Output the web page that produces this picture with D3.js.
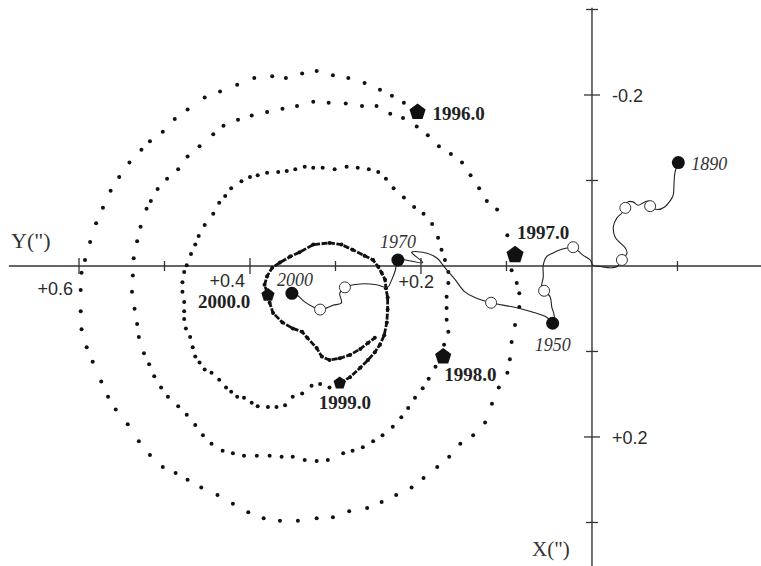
<!DOCTYPE html>
<html>
<head>
<meta charset="utf-8">
<script src="https://cdn.jsdelivr.net/npm/d3@7"></script>
<style>
  body { margin: 0; background: #fff; }
  svg { display: block; }
</style>
</head>
<body>
<script>
// pole positions as [X(''), Y('')]
const ring1996 = [[-0.180,0.204],[-0.191,0.220],[-0.199,0.234],[-0.206,0.248],[-0.214,0.266],[-0.220,0.285],[-0.223,0.303],[-0.228,0.322],[-0.225,0.339],[-0.220,0.358],[-0.222,0.374],[-0.220,0.395],[-0.212,0.415],[-0.204,0.435],[-0.197,0.453],[-0.183,0.473],[-0.172,0.488],[-0.157,0.502],[-0.146,0.517],[-0.136,0.527],[-0.121,0.541],[-0.104,0.553],[-0.088,0.563],[-0.068,0.572],[-0.050,0.580],[-0.028,0.587],[-0.007,0.593],[0.008,0.597],[0.028,0.598],[0.053,0.598],[0.074,0.597],[0.095,0.591],[0.112,0.584],[0.135,0.574],[0.153,0.566],[0.168,0.557],[0.185,0.543],[0.205,0.530],[0.221,0.517],[0.235,0.502],[0.242,0.487],[0.250,0.473],[0.259,0.457],[0.268,0.438],[0.278,0.420],[0.288,0.402],[0.295,0.384],[0.298,0.365],[0.298,0.344],[0.295,0.322],[0.294,0.303],[0.287,0.284],[0.283,0.263],[0.276,0.246],[0.268,0.229],[0.259,0.211],[0.248,0.197],[0.235,0.181],[0.223,0.167],[0.208,0.154],[0.198,0.139],[0.183,0.125],[0.161,0.117],[0.142,0.109],[0.125,0.099],[0.109,0.096],[0.089,0.094],[0.069,0.090],[0.048,0.085],[0.032,0.085],[0.020,0.088],[0.005,0.094],[-0.013,0.090]];
const ring1997 = [[-0.013,0.090],[-0.036,0.099],[-0.066,0.111],[-0.076,0.123],[-0.091,0.132],[-0.106,0.142],[-0.121,0.152],[-0.131,0.165],[-0.140,0.179],[-0.153,0.192],[-0.163,0.205],[-0.173,0.221],[-0.178,0.236],[-0.187,0.252],[-0.187,0.269],[-0.190,0.288],[-0.191,0.308],[-0.192,0.326],[-0.187,0.345],[-0.184,0.362],[-0.180,0.380],[-0.176,0.398],[-0.171,0.414],[-0.164,0.431],[-0.154,0.443],[-0.140,0.459],[-0.128,0.473],[-0.113,0.484],[-0.102,0.497],[-0.090,0.508],[-0.076,0.516],[-0.067,0.521],[-0.046,0.528],[-0.029,0.532],[-0.009,0.536],[0.011,0.537],[0.030,0.538],[0.050,0.535],[0.068,0.532],[0.083,0.530],[0.102,0.524],[0.115,0.518],[0.129,0.512],[0.142,0.504],[0.153,0.496],[0.164,0.484],[0.174,0.474],[0.186,0.464],[0.198,0.455],[0.208,0.445],[0.216,0.432],[0.219,0.420],[0.222,0.407],[0.222,0.392],[0.222,0.377],[0.223,0.363],[0.223,0.350],[0.227,0.336],[0.228,0.322],[0.227,0.309],[0.219,0.291],[0.216,0.280],[0.212,0.268],[0.205,0.256],[0.198,0.245],[0.188,0.233],[0.177,0.223],[0.166,0.215],[0.154,0.207],[0.143,0.198],[0.132,0.191],[0.118,0.183],[0.106,0.174]];
const ring1998 = [[0.106,0.174],[0.092,0.173],[0.077,0.168],[0.063,0.170],[0.049,0.170],[0.036,0.170],[0.020,0.168],[0.007,0.168],[-0.007,0.172],[-0.019,0.176],[-0.033,0.180],[-0.049,0.187],[-0.061,0.197],[-0.069,0.208],[-0.080,0.220],[-0.091,0.232],[-0.102,0.241],[-0.110,0.250],[-0.113,0.261],[-0.115,0.274],[-0.116,0.287],[-0.113,0.301],[-0.115,0.315],[-0.115,0.326],[-0.116,0.336],[-0.113,0.347],[-0.111,0.357],[-0.110,0.367],[-0.109,0.380],[-0.106,0.391],[-0.104,0.400],[-0.099,0.410],[-0.091,0.422],[-0.082,0.429],[-0.074,0.436],[-0.061,0.443],[-0.048,0.453],[-0.035,0.460],[-0.025,0.464],[-0.014,0.469],[-0.001,0.474],[0.007,0.477],[0.019,0.479],[0.030,0.479],[0.042,0.477],[0.053,0.477],[0.062,0.477],[0.073,0.475],[0.083,0.470],[0.095,0.467],[0.106,0.464],[0.113,0.459],[0.121,0.453],[0.125,0.445],[0.133,0.436],[0.142,0.428],[0.147,0.422],[0.153,0.415],[0.154,0.407],[0.160,0.398],[0.164,0.391],[0.165,0.379],[0.165,0.369],[0.163,0.359],[0.153,0.350],[0.149,0.339],[0.140,0.328],[0.138,0.318],[0.142,0.307],[0.137,0.295]];
const ring1999 = [[0.137,0.295],[0.130,0.283],[0.119,0.271],[0.110,0.262],[0.101,0.254],[0.092,0.248],[0.081,0.243],[0.066,0.240],[0.051,0.239],[0.037,0.239],[0.026,0.241],[0.016,0.242],[0.008,0.246],[0.001,0.250],[-0.007,0.256],[-0.012,0.266],[-0.019,0.280],[-0.025,0.293],[-0.027,0.307],[-0.025,0.326],[-0.016,0.342],[-0.011,0.353],[-0.004,0.365],[0.002,0.374],[0.012,0.380],[0.022,0.383],[0.034,0.379],[0.043,0.377],[0.055,0.373],[0.066,0.362],[0.073,0.350],[0.077,0.339],[0.084,0.333],[0.096,0.322],[0.106,0.316],[0.110,0.307],[0.108,0.295],[0.104,0.283],[0.097,0.271],[0.090,0.262],[0.084,0.254]];

// epochs on the recent spiral
const epochLabels = ["1996.0","1997.0","1998.0","1999.0","2000.0"];
const epochPos = [[-0.180,0.204],[-0.013,0.090],[0.106,0.174],[0.137,0.295],[0.034,0.379]];

// mean pole path 1890 - 2000
const meanPath = [[-0.121,-0.101],[-0.109,-0.097],[-0.097,-0.096],[-0.083,-0.095],[-0.077,-0.092],[-0.069,-0.085],[-0.066,-0.077],[-0.070,-0.068],[-0.076,-0.066],[-0.074,-0.060],[-0.071,-0.054],[-0.075,-0.048],[-0.075,-0.042],[-0.068,-0.039],[-0.062,-0.035],[-0.056,-0.029],[-0.046,-0.025],[-0.034,-0.027],[-0.027,-0.033],[-0.021,-0.039],[-0.015,-0.041],[-0.007,-0.035],[0.001,-0.029],[0.002,-0.021],[0.001,-0.013],[-0.001,-0.001],[-0.007,0.002],[-0.013,0.011],[-0.022,0.022],[-0.021,0.029],[-0.019,0.037],[-0.015,0.046],[-0.011,0.053],[-0.001,0.057],[0.013,0.057],[0.025,0.059],[0.029,0.056],[0.036,0.049],[0.048,0.047],[0.059,0.044],[0.067,0.046],[0.060,0.053],[0.054,0.069],[0.048,0.092],[0.043,0.118],[0.037,0.137],[0.030,0.149],[0.016,0.160],[0.002,0.172],[-0.009,0.181],[-0.015,0.193],[-0.016,0.211],[-0.004,0.198],[-0.007,0.227],[0.005,0.230],[0.018,0.235],[0.025,0.239],[0.022,0.252],[0.021,0.271],[0.025,0.289],[0.032,0.295],[0.043,0.293],[0.046,0.303],[0.049,0.310],[0.051,0.318],[0.048,0.326],[0.042,0.336],[0.034,0.345],[0.032,0.351]];
const decadeYears = [1900,1910,1920,1930,1940,1960,1980,1990];
const decadePos = [[-0.070,-0.068],[-0.068,-0.039],[-0.007,-0.035],[-0.022,0.022],[0.029,0.056],[0.043,0.118],[0.025,0.289],[0.051,0.318]];
const namedYears = ["1890","1950","1970","2000"];
const namedPos = [[-0.121,-0.101],[0.067,0.046],[-0.007,0.227],[0.032,0.351]];

// axes
const xTicks = [0.6,0.5,0.4,0.3,0.2,0.1,-0.1];
const xTickLabels = [0.6,0.4,0.2];
const yTicks = [-0.3,-0.2,-0.1,0.1,0.2,0.3];
const yTickLabels = [-0.2,0.2];

const width = 761, height = 566;

const svg = d3.select("body")
    .append("svg")
    .attr("width", width)
    .attr("height", height);

// Y('') grows to the left, X('') grows downward
const sx = d3.scaleLinear().domain([0.6924, -0.1977]).range([0, width]);
const sy = d3.scaleLinear().domain([-0.3111, 0.3509]).range([0, height]);

const ink = "#111";

// axis lines
svg.append("line")
    .attr("x1", sx(0.682)).attr("x2", width)
    .attr("y1", sy(0)).attr("y2", sy(0))
    .attr("stroke", "#333").attr("stroke-width", 1.4);
svg.append("line")
    .attr("x1", sx(0)).attr("x2", sx(0))
    .attr("y1", sy(-0.302)).attr("y2", height)
    .attr("stroke", "#333").attr("stroke-width", 1.4);

svg.selectAll(".xtick")
    .data(xTicks)
    .enter().append("line")
    .attr("class", "xtick")
    .attr("x1", d => sx(d)).attr("x2", d => sx(d))
    .attr("y1", d => sy(0) - (xTickLabels.includes(d) ? 8 : 5))
    .attr("y2", d => sy(0) + (xTickLabels.includes(d) ? 8 : 5))
    .attr("stroke", "#333").attr("stroke-width", 1.3);

svg.selectAll(".ytick")
    .data(yTicks)
    .enter().append("line")
    .attr("class", "ytick")
    .attr("x1", d => sx(0) - (yTickLabels.includes(d) ? 8 : 6))
    .attr("x2", d => sx(0) + (yTickLabels.includes(d) ? 8 : 6))
    .attr("y1", d => sy(d)).attr("y2", d => sy(d))
    .attr("stroke", "#333").attr("stroke-width", 1.3);

const fmt = d => (d > 0 ? "+" : "-") + Math.abs(d).toFixed(1);
const xLabelShift = {0.6: [-6, 29], 0.4: [-5, 21], 0.2: [13, 22]};

svg.selectAll(".xlab")
    .data(xTickLabels)
    .enter().append("text")
    .attr("class", "xlab")
    .attr("x", d => sx(d) + xLabelShift[d][0])
    .attr("y", d => sy(0) + xLabelShift[d][1])
    .attr("text-anchor", "end")
    .style("font", "18px 'Liberation Sans', Arial, sans-serif")
    .style("fill", "#2a2a2a")
    .text(fmt);

svg.selectAll(".ylab")
    .data(yTickLabels)
    .enter().append("text")
    .attr("class", "ylab")
    .attr("x", sx(0) + 20)
    .attr("y", d => sy(d) + 7)
    .style("font", "18px 'Liberation Sans', Arial, sans-serif")
    .style("fill", "#2a2a2a")
    .text(fmt);

svg.append("text")
    .attr("x", 11).attr("y", 248)
    .style("font", "22px 'Liberation Serif', 'Times New Roman', serif")
    .style("fill", "#333")
    .text("Y(\")");
svg.append("text")
    .attr("x", 532).attr("y", 556)
    .style("font", "21px 'Liberation Serif', 'Times New Roman', serif")
    .style("fill", "#333")
    .text("X(\")");

// recent daily positions as dots
const dots = ring1996.concat(ring1997, ring1998);
svg.selectAll(".dot")
    .data(dots)
    .enter().append("circle")
    .attr("class", "dot")
    .attr("cx", d => sx(d[1]))
    .attr("cy", d => sy(d[0]))
    .attr("r", 2)
    .attr("fill", ink);

// last year is dense, so it reads as a thick line
const line = d3.line().x(d => sx(d[1])).y(d => sy(d[0]));
svg.append("path")
    .attr("d", line(ring1999))
    .attr("fill", "none")
    .attr("stroke", ink)
    .attr("stroke-width", 2.8)
    .attr("stroke-dasharray", "6,1.5")
    .attr("stroke-linejoin", "round");
svg.selectAll(".dot99")
    .data(ring1999)
    .enter().append("circle")
    .attr("class", "dot99")
    .attr("cx", d => sx(d[1]))
    .attr("cy", d => sy(d[0]))
    .attr("r", 2)
    .attr("fill", ink);

// mean pole path
svg.append("path")
    .attr("d", line.curve(d3.curveCatmullRom.alpha(0.5))(meanPath))
    .attr("fill", "none")
    .attr("stroke", "#222")
    .attr("stroke-width", 1.1);

svg.selectAll(".decade")
    .data(decadePos)
    .enter().append("circle")
    .attr("class", "decade")
    .attr("cx", d => sx(d[1]))
    .attr("cy", d => sy(d[0]))
    .attr("r", 5.5)
    .attr("fill", "#fff")
    .attr("stroke", "#333")
    .attr("stroke-width", 1);

svg.selectAll(".named")
    .data(namedPos)
    .enter().append("circle")
    .attr("class", "named")
    .attr("cx", d => sx(d[1]))
    .attr("cy", d => sy(d[0]))
    .attr("r", 6.5)
    .attr("fill", ink);

const namedShift = [[13, 7, "start"], [0, 28, "middle"], [0, -12, "middle"], [3, -7, "middle"]];
svg.selectAll(".namedlab")
    .data(namedYears)
    .enter().append("text")
    .attr("class", "namedlab")
    .attr("x", (d, i) => sx(namedPos[i][1]) + namedShift[i][0])
    .attr("y", (d, i) => sy(namedPos[i][0]) + namedShift[i][1])
    .attr("text-anchor", (d, i) => namedShift[i][2])
    .style("font", "italic 18px 'Liberation Serif', 'Times New Roman', serif")
    .style("fill", "#333")
    .text(d => d);

// pentagon markers at each new year
const pentagon = {
    draw(ctx, size) {
        const r = Math.sqrt(size / 2.378);
        for (let i = 0; i < 5; i++) {
            const a = -Math.PI / 2 + i * 2 * Math.PI / 5;
            if (i === 0) ctx.moveTo(r * Math.cos(a), r * Math.sin(a));
            else ctx.lineTo(r * Math.cos(a), r * Math.sin(a));
        }
        ctx.closePath();
    }
};
const epochR = [8.5, 9, 8.5, 6.5, 7];
svg.selectAll(".epoch")
    .data(epochPos)
    .enter().append("path")
    .attr("class", "epoch")
    .attr("transform", d => `translate(${sx(d[1])},${sy(d[0])})`)
    .attr("d", (d, i) => d3.symbol().type(pentagon).size(2.378 * epochR[i] * epochR[i])())
    .attr("fill", ink);

const epochShift = [[15, 8], [2, -16], [1, 24], [-21, 26], [-70, 13]];
svg.selectAll(".epochlab")
    .data(epochLabels)
    .enter().append("text")
    .attr("class", "epochlab")
    .attr("x", (d, i) => sx(epochPos[i][1]) + epochShift[i][0])
    .attr("y", (d, i) => sy(epochPos[i][0]) + epochShift[i][1])
    .style("font", "bold 19px 'Liberation Serif', 'Times New Roman', serif")
    .style("fill", "#222")
    .text(d => d);
</script>
</body>
</html>
